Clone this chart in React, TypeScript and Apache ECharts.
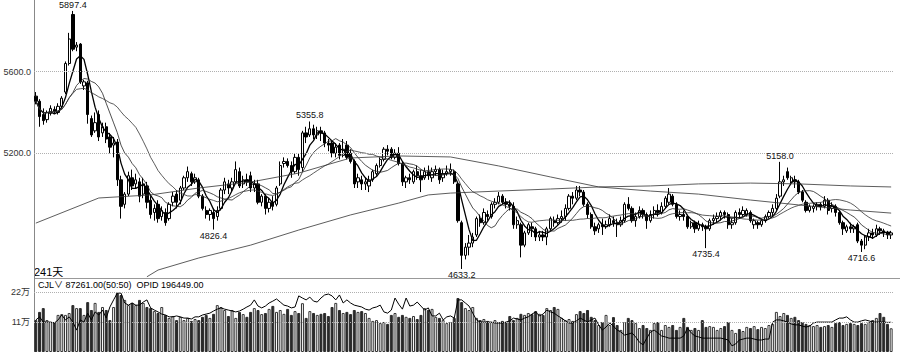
import { useEffect, useRef } from 'react';
import * as echarts from 'echarts';

// [open, close, low, high]
const ohlc: number[][] = [
  [5480,5455,5440,5500],[5455,5380,5330,5465],[5390,5360,5340,5420],[5365,5400,5350,5410],[5395,5420,5385,5435],
  [5415,5405,5395,5430],[5400,5430,5390,5445],[5430,5470,5420,5480],[5500,5640,5490,5650],[5640,5760,5630,5790],
  [5880,5710,5700,5897.4],[5720,5730,5700,5745],[5735,5550,5540,5740],[5530,5550,5510,5560],[5545,5390,5345,5555],
  [5370,5290,5280,5385],[5310,5350,5300,5400],[5390,5280,5260,5410],[5300,5330,5280,5350],[5330,5270,5250,5350],
  [5280,5230,5200,5300],[5240,5250,5180,5280],[5255,5070,5040,5270],[5070,4940,4880,5090],[4950,5000,4930,5010],
  [5000,5090,4990,5110],[5080,5040,5020,5120],[5050,5070,5030,5100],[5060,4990,4960,5080],[5000,5050,4980,5080],
  [5040,4960,4930,5060],[4970,4900,4880,4990],[4910,4930,4870,4950],[4950,4880,4860,4970],[4890,4920,4870,4940],
  [4910,4860,4845,4930],[4880,4950,4870,4960],[4960,4990,4940,5010],[5000,4960,4930,5020],[4970,5030,4950,5040],
  [5030,5080,5020,5090],[5080,5110,5060,5135],[5100,5060,5040,5110],[5060,5080,5050,5100],[5070,4990,4980,5080],
  [4990,4930,4920,5000],[4920,4900,4880,4940],[4900,4920,4870,4930],[4910,4880,4826.4,4930],[4890,4920,4870,4940],
  [4930,5020,4920,5030],[5020,5060,5000,5080],[5050,5030,5000,5070],[5030,5060,5010,5080],[5060,5120,5050,5160],
  [5110,5040,5030,5130],[5050,5070,5030,5090],[5070,5060,5040,5100],[5090,5030,5010,5110],[5030,5050,5010,5070],
  [5050,4960,4950,5070],[4960,4990,4940,5000],[4990,4930,4900,5000],[4930,4960,4910,4980],[4960,4940,4920,4990],
  [4950,5030,4940,5040],[5050,5140,5040,5160],[5150,5160,5130,5180],[5160,5140,5130,5175],[5140,5110,5080,5160],
  [5110,5180,5100,5200],[5180,5120,5090,5200],[5130,5300,5110,5310],[5300,5280,5250,5330],[5290,5320,5280,5355.8],
  [5320,5290,5270,5340],[5290,5310,5270,5330],[5310,5300,5260,5330],[5300,5250,5230,5310],[5250,5240,5210,5270],
  [5250,5200,5180,5260],[5200,5230,5180,5250],[5240,5190,5170,5250],[5190,5220,5180,5270],[5240,5180,5170,5260],
  [5200,5160,5150,5220],[5160,5050,5030,5170],[5060,5080,5030,5100],[5070,5050,5020,5090],[5050,5060,5020,5080],
  [5040,5070,5010,5090],[5070,5110,5060,5120],[5100,5140,5090,5150],[5140,5170,5130,5180],[5170,5220,5160,5230],
  [5220,5210,5190,5240],[5220,5180,5170,5230],[5180,5200,5170,5220],[5200,5150,5140,5230],[5150,5060,5040,5160],
  [5060,5080,5030,5090],[5080,5070,5050,5100],[5060,5110,5050,5120],[5110,5090,5070,5140],[5090,5070,5010,5120],
  [5080,5110,5070,5130],[5110,5090,5070,5140],[5080,5110,5060,5130],[5110,5120,5090,5140],[5120,5070,5050,5130],
  [5080,5100,5060,5120],[5100,5110,5090,5140],[5110,5120,5090,5150],[5110,5060,5050,5120],[5050,4870,4860,5060],
  [4860,4700,4633.2,4870],[4700,4740,4680,4760],[4740,4760,4700,4800],[4760,4790,4740,4810],[4800,4880,4790,4890],
  [4880,4860,4840,4900],[4860,4910,4850,4930],[4900,4890,4870,4920],[4890,4950,4880,4960],[4950,4960,4930,4980],
  [4960,4990,4950,5010],[4990,4960,4950,5000],[4960,4950,4930,4980],[4950,4940,4920,4970],[4940,4850,4830,4960],
  [4850,4870,4830,4890],[4850,4750,4690,4860],[4750,4810,4740,4820],[4810,4850,4800,4860],[4840,4830,4790,4860],
  [4830,4790,4770,4840],[4790,4800,4770,4820],[4800,4790,4770,4820],[4790,4830,4750,4840],[4830,4880,4820,4890],
  [4870,4860,4840,4890],[4860,4880,4850,4900],[4880,4890,4860,4920],[4890,4930,4870,4950],[4930,4990,4920,5000],
  [4990,4980,4950,5010],[4980,5020,4970,5040],[5020,5010,4990,5040],[5010,4950,4940,5020],[4950,4900,4880,4960],
  [4900,4840,4830,4910],[4840,4820,4800,4860],[4830,4850,4810,4860],[4850,4840,4800,4880],[4840,4850,4830,4870],
  [4850,4880,4840,4900],[4870,4860,4840,4890],[4860,4850,4790,4880],[4850,4870,4840,4890],[4870,4950,4860,4960],
  [4950,4930,4920,4985],[4930,4870,4860,4940],[4870,4890,4840,4910],[4890,4920,4880,4940],[4920,4900,4880,4930],
  [4900,4870,4830,4910],[4870,4900,4860,4920],[4900,4920,4880,4940],[4920,4910,4890,4950],[4910,4940,4900,4960],
  [4940,4980,4930,4990],[4960,5000,4950,5030],[4990,4950,4940,5000],[4950,4890,4880,4960],[4890,4900,4870,4920],
  [4900,4890,4870,4920],[4890,4840,4830,4900],[4840,4860,4830,4870],[4860,4830,4810,4870],[4830,4850,4820,4870],
  [4850,4840,4820,4860],[4840,4830,4735.4,4850],[4830,4870,4820,4880],[4870,4880,4850,4900],[4880,4890,4860,4910],
  [4890,4910,4870,4920],[4910,4900,4880,4920],[4900,4850,4830,4910],[4850,4860,4830,4880],[4860,4910,4850,4920],
  [4910,4900,4880,4930],[4900,4920,4890,4940],[4900,4920,4890,4930],[4910,4870,4860,4920],[4850,4870,4830,4880],
  [4860,4850,4830,4870],[4850,4870,4840,4880],[4870,4890,4860,4900],[4890,4910,4880,4920],[4910,4930,4890,4950],
  [4930,4980,4920,5000],[4990,5060,4980,5158.0],[5060,5070,5040,5090],[5110,5080,5070,5130],[5060,5080,5050,5090],
  [5070,5060,5030,5090],[5060,5010,5000,5070],[5010,4970,4960,5020],[4960,4920,4910,4970],[4920,4940,4910,4950],
  [4930,4940,4910,4950],[4940,4950,4920,4960],[4950,4940,4920,4960],[4940,4970,4930,4990],[4970,4920,4900,4980],
  [4930,4940,4910,4960],[4940,4910,4890,4950],[4910,4860,4850,4920],[4860,4830,4800,4870],[4820,4840,4810,4850],
  [4840,4830,4810,4860],[4830,4840,4810,4850],[4850,4770,4760,4860],[4770,4750,4716.6,4780],[4750,4790,4730,4800],
  [4790,4810,4770,4830],[4810,4800,4780,4830],[4800,4830,4790,4850],[4830,4820,4800,4840],[4820,4810,4790,4830],
  [4810,4800,4780,4820],[4800,4810,4780,4820]
];

// volume (万手)
const volume: number[] = [
  11.7,14.7,16.1,11.7,11.0,11.0,13.6,13.9,13.6,14.3,17.2,16.1,16.1,13.6,18.3,15.4,18.0,14.7,16.5,15.4,
  11.7,16.5,21.6,20.9,19.1,17.2,18.0,17.2,19.1,18.0,16.5,16.1,15.0,14.3,16.5,13.6,12.5,13.2,11.7,12.9,
  11.7,12.5,11.4,12.1,11.7,12.9,13.6,12.5,14.0,17.2,16.5,15.4,13.2,15.4,12.5,14.7,13.9,12.9,14.7,16.1,
  15.4,13.9,14.3,15.8,16.9,14.7,15.4,14.0,15.8,13.6,15.0,14.3,17.9,12.5,15.0,14.3,13.6,14.0,14.3,13.2,
  16.5,18.0,15.4,14.3,14.7,13.9,15.4,14.7,15.0,14.3,12.5,11.4,11.7,10.6,11.0,10.3,13.6,14.3,12.9,13.6,
  12.9,12.5,13.2,12.1,13.6,16.1,15.4,15.8,12.9,12.5,11.7,10.6,11.0,12.5,19.8,18.3,16.1,15.4,16.5,12.5,
  11.7,12.1,11.4,11.0,11.7,11.0,11.4,11.0,13.2,11.7,12.5,14.0,13.6,14.3,13.9,15.0,14.0,13.6,16.1,15.4,
  16.5,15.8,12.5,11.7,12.1,11.4,13.9,15.0,14.3,15.4,12.9,11.7,9.9,11.0,13.6,9.9,12.8,9.9,8.1,11.0,
  12.5,11.7,10.6,8.8,9.9,8.8,8.1,10.6,11.0,8.1,9.9,9.2,9.9,8.1,9.2,12.5,9.2,8.1,8.8,8.1,
  11.7,9.2,9.5,9.2,8.1,8.8,9.5,11.0,8.1,7.0,8.4,7.7,9.2,8.8,9.5,8.4,9.2,8.8,9.9,10.3,
  14.7,13.2,14.3,13.6,12.5,12.9,11.7,11.0,10.3,9.9,9.5,9.9,9.2,9.5,9.9,9.2,10.6,11.0,9.9,10.3,
  10.6,10.3,9.9,10.6,10.3,11.0,11.7,12.5,14.3,12.9,10.3,8.7
];

// open interest (万手)
const opid: number[] = [
  20.4,21.4,19.7,19.7,19.7,19.4,20.4,22.0,20.4,21.4,19.7,17.1,20.4,19.7,22.6,20.4,23.0,22.0,23.6,21.0,
  24.6,26.9,29.1,29.1,25.9,25.2,25.9,25.2,25.2,26.2,26.9,24.3,23.6,23.0,22.3,22.0,21.4,21.4,21.7,21.4,
  21.0,21.0,20.7,21.4,21.4,22.0,22.3,22.6,23.3,23.9,24.3,23.9,23.6,23.3,23.0,23.3,23.9,24.6,25.2,26.9,
  24.9,24.3,24.9,25.9,26.5,27.2,26.2,25.2,24.9,24.3,24.6,28.2,27.5,26.9,27.8,26.5,26.2,27.5,28.5,28.8,
  28.2,26.9,28.5,25.9,26.9,25.9,25.2,24.9,24.6,23.9,23.6,24.3,24.6,25.2,23.0,22.6,23.6,27.5,25.5,23.9,
  27.5,24.9,25.2,26.2,24.9,23.6,24.3,21.7,21.7,22.6,20.4,21.4,21.7,21.0,26.9,26.9,25.9,24.9,22.6,20.4,
  19.7,19.7,19.7,19.7,19.4,19.4,19.4,19.7,20.1,21.0,20.7,20.4,21.0,21.4,22.3,23.0,21.7,22.3,23.6,23.0,
  22.6,21.7,21.0,20.1,19.4,19.4,20.1,21.0,20.4,19.7,20.4,21.0,18.8,17.1,18.1,19.4,18.4,17.1,16.5,15.5,
  15.8,16.2,14.9,13.2,12.3,14.5,16.5,17.1,16.2,15.2,14.9,14.5,14.5,14.5,14.5,15.2,17.8,16.2,15.2,14.9,
  14.5,14.5,14.5,14.5,14.5,14.5,14.2,13.9,12.0,12.6,13.9,14.2,14.5,14.5,14.2,13.9,13.9,14.2,14.2,19.7,
  20.4,20.4,20.1,19.7,19.1,18.8,18.8,18.4,18.1,18.4,19.4,19.7,19.7,19.7,19.7,19.7,20.4,21.0,21.0,21.4,
  20.4,19.7,19.7,20.1,20.4,20.1,19.7,19.7,19.7,19.7,19.6,19.64
];

// long moving averages: [bar index, value]
const maLongA: number[][] = [
  [0,4858],[17,4981],[31,4996],[44,5030],[58,5059],[71,5103],[85,5177],[98,5187],[112,5182],
  [125,5138],[139,5084],[152,5035],[166,5015],[179,5000],[193,4971],[206,4947],[220,4922],[231,4907]
];
const maLongB: number[][] = [
  [30,4595],[33,4628],[44,4687],[58,4750],[71,4824],[85,4898],[98,4956],[106,4996],[112,5005],
  [125,5015],[139,5025],[152,5035],[166,5040],[179,5050],[193,5054],[206,5050],[220,5040],[231,5035]
];

const priceTicks = [5200, 5600];
const volTicks = [11, 22];
const extremes = [
  { i: 10, v: 5897.4, pos: 'top' },
  { i: 74, v: 5355.8, pos: 'top' },
  { i: 48, v: 4826.4, pos: 'bottom' },
  { i: 115, v: 4633.2, pos: 'bottom' },
  { i: 201, v: 5158.0, pos: 'top' },
  { i: 181, v: 4735.4, pos: 'bottom' },
  { i: 223, v: 4716.6, pos: 'bottom' },
];

const FONT = "'Liberation Sans', Arial, 'Noto Sans CJK SC', sans-serif";

function movingAverage(n: number): number[] {
  const closes = ohlc.map((r) => r[1]);
  return closes.map((_, i) => {
    const s = Math.max(0, i - n + 1);
    let sum = 0;
    for (let k = s; k <= i; k++) sum += closes[k];
    return +(sum / (i - s + 1)).toFixed(1);
  });
}

export default function App() {
  const ref = useRef<HTMLDivElement>(null);
  useEffect(() => {
    const chart = echarts.init(ref.current!, null, { renderer: 'svg' });
    const cats = ohlc.map((_, i) => String(i));
    const volData = volume.map((v, i) => {
      const up = ohlc[i][1] >= ohlc[i][0];
      return {
        value: v,
        itemStyle: up
          ? { color: '#ffffff', borderColor: '#333', borderWidth: 1 }
          : { color: '#2a2a2a', borderColor: '#2a2a2a', borderWidth: 1 },
      };
    });
    const lineBase = { type: 'line', xAxisIndex: 0, yAxisIndex: 0, showSymbol: false, symbol: 'none', silent: true, smooth: false };
    chart.setOption({
      animation: false,
      backgroundColor: '#ffffff',
      grid: [
        { left: 34, right: 7, top: 0, height: 278 },
        { left: 34, right: 7, top: 278, height: 74 },
      ],
      xAxis: [
        { type: 'category', gridIndex: 0, data: cats, boundaryGap: true, axisLine: { show: false }, axisTick: { show: false }, axisLabel: { show: false }, splitLine: { show: false } },
        { type: 'category', gridIndex: 1, data: cats, boundaryGap: true, axisLine: { show: true, lineStyle: { color: '#999', width: 1 } }, axisTick: { show: false }, axisLabel: { show: false }, splitLine: { show: false } },
      ],
      yAxis: [
        {
          type: 'value', gridIndex: 0, min: 4589, max: 5951, position: 'left',
          axisLine: { show: true, lineStyle: { color: '#888', width: 1 } }, axisTick: { show: false }, splitLine: { show: false },
          axisLabel: { customValues: priceTicks, formatter: (v: number) => v.toFixed(1), fontSize: 9, color: '#333', margin: 3, fontFamily: FONT },
        },
        {
          type: 'value', gridIndex: 1, min: 0, max: 27.13, position: 'left',
          axisLine: { show: true, lineStyle: { color: '#888', width: 1 } }, axisTick: { show: false }, splitLine: { show: false },
          axisLabel: { customValues: volTicks, formatter: (v: number) => v + '万', fontSize: 9, color: '#333', margin: 4, fontFamily: FONT },
        },
        { type: 'value', gridIndex: 1, min: 10, max: 34, show: false },
      ],
      series: [
        {
          type: 'candlestick', xAxisIndex: 0, yAxisIndex: 0, data: ohlc, barWidth: '76%', silent: true,
          itemStyle: { color: '#ffffff', color0: '#000000', borderColor: '#000000', borderColor0: '#000000', borderWidth: 1 },
          markLine: {
            silent: true, symbol: ['none', 'none'], label: { show: false },
            lineStyle: { type: 'dotted', color: '#b0b0b0', width: 1 },
            data: priceTicks.map((t) => ({ yAxis: t })),
          },
          markPoint: {
            silent: true, symbol: 'circle', symbolSize: 1, itemStyle: { color: 'rgba(0,0,0,0)' },
            data: extremes.map((e) => ({
              coord: [e.i, e.v], value: e.v,
              label: { show: true, position: e.pos, distance: 1, formatter: e.v.toFixed(1), fontSize: 9, color: '#111', fontFamily: FONT },
            })),
          },
        },
        { ...lineBase, data: movingAverage(5), lineStyle: { color: '#000', width: 1.3 } },
        { ...lineBase, data: movingAverage(10), lineStyle: { color: '#222', width: 0.8 } },
        { ...lineBase, data: movingAverage(20), lineStyle: { color: '#333', width: 0.8 } },
        { ...lineBase, data: maLongA, lineStyle: { color: '#333', width: 0.8 } },
        { ...lineBase, data: maLongB, lineStyle: { color: '#333', width: 0.8 } },
        {
          type: 'bar', xAxisIndex: 1, yAxisIndex: 1, data: volData, barWidth: '80%', silent: true,
          markLine: {
            silent: true, symbol: ['none', 'none'], label: { show: false },
            lineStyle: { type: 'dotted', color: '#b0b0b0', width: 1 },
            data: volTicks.map((t) => ({ yAxis: t })),
          },
        },
        { type: 'line', xAxisIndex: 1, yAxisIndex: 2, data: opid, showSymbol: false, symbol: 'none', silent: true, lineStyle: { color: '#000', width: 1 } },
      ],
      graphic: [
        { type: 'line', silent: true, shape: { x1: 34, y1: 278.5, x2: 900, y2: 278.5 }, style: { stroke: '#999', lineWidth: 1 } },
        { type: 'text', silent: true, left: 34, top: 266, style: { text: '241天', fontSize: 11, fill: '#000', fontFamily: FONT } },
        { type: 'text', silent: true, left: 38, top: 280, style: { text: 'CJL∨ 87261.00(50:50)  OPID 196449.00', fontSize: 9, fill: '#000', fontFamily: FONT } },
      ],
    });
    return () => chart.dispose();
  }, []);
  return <div ref={ref} style={{ position: 'fixed', left: 0, top: 0, width: 900, height: 352, background: '#fff' }} />;
}
